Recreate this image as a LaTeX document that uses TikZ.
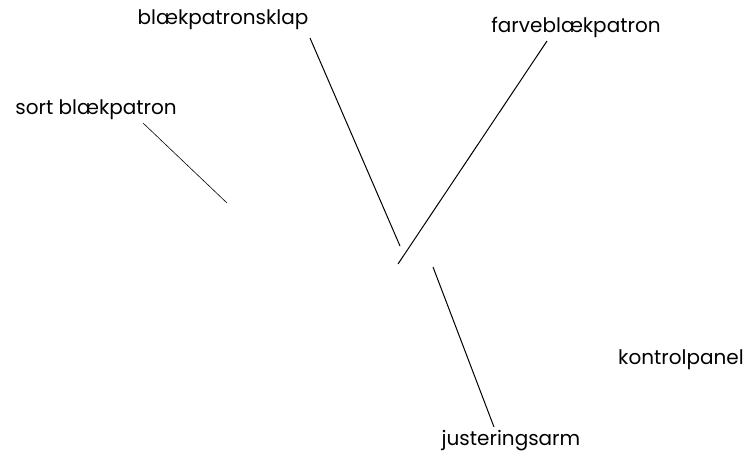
\documentclass[tikz,border=0pt]{standalone}
\usepackage{fontspec}
\setmainfont{Poppins}
\begin{document}
\begin{tikzpicture}[x=1pt,y=-1pt,
  lbl/.style={inner sep=0pt,font=\fontsize{20}{22}\selectfont},
  lead/.style={draw=black,line width=1pt}]
\useasboundingbox (0,0) rectangle (750,463);
\node[lbl] (klap) at (223,20) {blækpatronsklap};
\node[lbl] (farve) at (576,27) {farveblækpatron};
\node[lbl] (sort) at (96,110) {sort blækpatron};
\node[lbl] (kontrol) at (681,360) {kontrolpanel};
\node[lbl] (juster) at (511,441) {justeringsarm};
\coordinate (k1) at (310,38);
\coordinate (k2) at (400,246);
\coordinate (f1) at (547,41);
\coordinate (f2) at (398,264);
\coordinate (s1) at (143,123);
\coordinate (s2) at (227,203);
\coordinate (j1) at (433,267);
\coordinate (j2) at (494,427);
\draw[lead] (k1) -- (k2);
\draw[lead] (f1) -- (f2);
\draw[lead,line width=0.6pt] (s1) -- (s2);
\draw[lead] (j1) -- (j2);
\end{tikzpicture}
\end{document}
